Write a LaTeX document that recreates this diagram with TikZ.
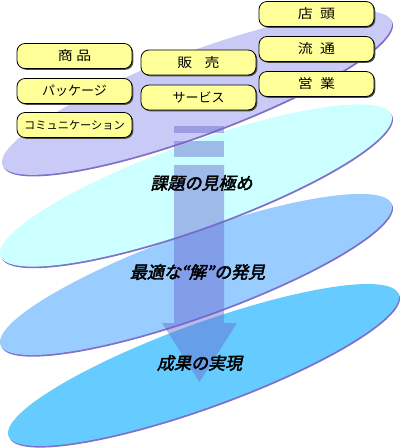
\documentclass[tikz,border=0pt]{standalone}
\usepackage{fontspec}
\newfontfamily\jp{Noto Sans CJK JP}
\newfontfamily\jpw[FakeStretch=1.15]{Noto Sans CJK JP}
\newfontfamily\jpbi[FakeSlant=0.22,FakeBold=2.5]{Noto Sans CJK JP}
\usetikzlibrary{shadows}
\definecolor{lav}{HTML}{CACAF6}
\definecolor{cyanl}{HTML}{CCFFFF}
\definecolor{bluel}{HTML}{99CCFF}
\definecolor{blued}{HTML}{66CCFF}
\definecolor{edgec}{HTML}{7F70C8}
\definecolor{boxy}{HTML}{FFFF99}
\definecolor{arrc}{HTML}{6666CC}
\newcommand\myplate[6]{%
  \fill[edgec,shift={(1,1.6)}] plot[domain=0:360,samples=145] ({#1+#3*cos(\x)},{#2-#4*cos(\x)+#5*sin(\x)}) -- cycle;
  \fill[#6] plot[domain=0:360,samples=145] ({#1+#3*cos(\x)},{#2-#4*cos(\x)+#5*sin(\x)}) -- cycle;}
\tikzset{
  lbox/.style={draw=black, line width=0.8pt, fill=boxy, rounded corners=8pt,
    minimum width=115pt, minimum height=25pt, inner sep=0pt,
    drop shadow={shadow xshift=1.3pt, shadow yshift=-1.3pt, fill=black!70, opacity=1}},
  kfont/.style={font=\jpw\fontsize{13}{13}\selectfont},
  kafont/.style={font=\jp\fontsize{13}{13}\selectfont},
  lbl/.style={font=\jpbi\fontsize{17}{17}\selectfont, text=black, inner sep=0pt},
  arrowfill/.style={fill=arrc, fill opacity=0.45}
}
\begin{document}
\begin{tikzpicture}[x=1pt,y=-1pt]
\useasboundingbox (0,0) rectangle (400,448);
% plates, bottom first
\myplate{203.5}{365}{195.5}{68}{44}{blued}
\myplate{196}{274.5}{196}{67.5}{44}{bluel}
\myplate{196}{185.5}{196}{67.5}{45}{cyanl}
\myplate{197}{93}{195}{69}{44}{lav}
% arrow
\fill[arrowfill] (174,126) rectangle (224,133);
\fill[arrowfill] (174,141) rectangle (224,157);
\fill[arrowfill] (174,165) -- (224,165) -- (224,323) -- (237,323) -- (199.5,382) -- (162,323) -- (174,323) -- cycle;
% boxes
\node[lbox,kfont] (shohin) at (74.5,56) {商\hspace{3.6pt}品};
\node[lbox,kafont] (package) at (74.5,91) {パッケージ};
\node[lbox,font=\jp\fontsize{11.2}{11.2}\selectfont] (comm) at (74.5,125) {コミュニケーション};
\node[lbox,kfont] (hanbai) at (198.5,62.5) {販\hspace{12.5pt}売};
\node[lbox,kafont] (service) at (198.5,97.5) {サービス};
\node[lbox,kfont] (tento) at (316.5,14) {店\hspace{7.5pt}頭};
\node[lbox,kfont] (ryutsu) at (316.5,49) {流\hspace{7.5pt}通};
\node[lbox,kfont] (eigyo) at (316.5,84) {営\hspace{7.5pt}業};
% labels
\node[lbl] (kadai) at (201.5,183) {課題の見極め};
\node[lbl] (saiteki) at (197.5,272) {最適な“解”の発見};
\node[lbl] (seika) at (199.5,363) {成果の実現};
\end{tikzpicture}
\end{document}
